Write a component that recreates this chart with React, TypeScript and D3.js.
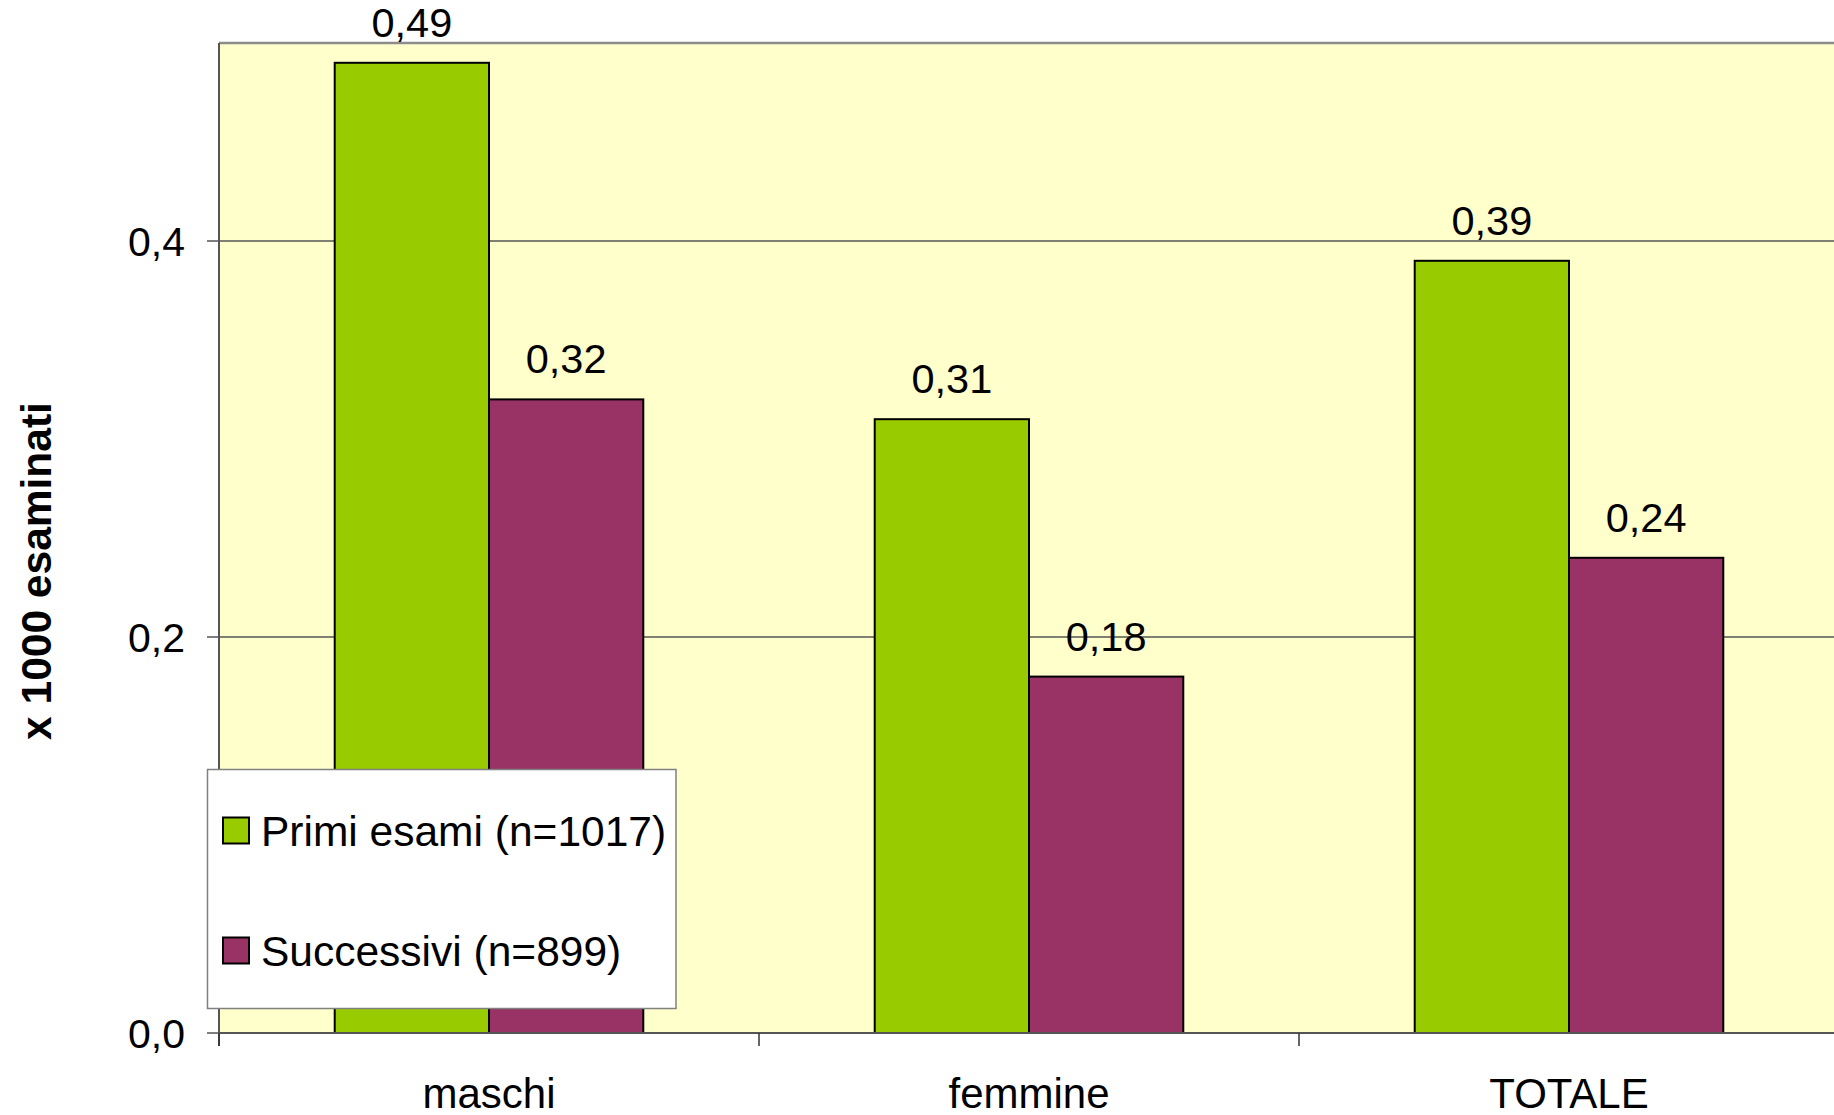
import React from "react";
import * as d3 from "d3";

const categories = ["maschi", "femmine", "TOTALE"];
const seriesNames = ["Primi esami (n=1017)", "Successivi (n=899)"];
const primiEsami = [0.49, 0.31, 0.39];
const successivi = [0.32, 0.18, 0.24];
const yTicks = [0, 0.2, 0.4];
const seriesColors = ["#99CC00", "#993366"];

const W = 1834;
const H = 1115;
const FONT = "'Liberation Sans', Arial, sans-serif";

export default function App() {
  const left = 219;
  const right = 1839;
  const top = 43;
  const bottom = 1033;

  const x = d3.scaleBand<string>().domain(categories).range([left, right]).padding(0);
  const xs = d3
    .scaleBand<string>()
    .domain(seriesNames)
    .range([0, x.bandwidth()])
    .paddingInner(0)
    .paddingOuter(0.75);
  const y = d3.scaleLinear().domain([0, 0.5]).range([bottom, top]);
  const fmt = (v: number, d: number) => d3.format(`.${d}f`)(v).replace(".", ",");

  const series = [primiEsami, successivi];

  const boundaries = categories.map((c) => x(c) as number);

  return (
    <svg
      width={W}
      height={H}
      style={{ position: "absolute", left: 0, top: 0, display: "block", background: "#fff" }}
      fontFamily={FONT}
    >
      {/* plot background */}
      <rect x={left} y={top} width={right - left} height={bottom - top} fill="#FFFFCC" />
      <line x1={left} x2={W} y1={top} y2={top} stroke="#8c8c8c" strokeWidth={2.5} />

      {/* gridlines */}
      {yTicks
        .filter((t) => t > 0)
        .map((t) => (
          <line key={t} x1={left} x2={W} y1={y(t)} y2={y(t)} stroke="#555" strokeWidth={1.3} />
        ))}

      {/* bars */}
      {series.map((vals, si) =>
        categories.map((c, ci) => {
          const bx = (x(c) as number) + (xs(seriesNames[si]) as number);
          const by = y(vals[ci]);
          return (
            <rect
              key={`${si}-${ci}`}
              x={bx}
              y={by}
              width={xs.bandwidth()}
              height={bottom - by}
              fill={seriesColors[si]}
              stroke="#000"
              strokeWidth={2}
            />
          );
        })
      )}

      {/* value labels */}
      {series.map((vals, si) =>
        categories.map((c, ci) => {
          const cx = (x(c) as number) + (xs(seriesNames[si]) as number) + xs.bandwidth() / 2;
          return (
            <text
              key={`l-${si}-${ci}`}
              x={cx}
              y={y(vals[ci]) - 26}
              textAnchor="middle"
              fontSize={41.5}
              fill="#000"
            >
              {fmt(vals[ci], 2)}
            </text>
          );
        })
      )}

      {/* y axis */}
      <line x1={left} x2={left} y1={top} y2={bottom + 13} stroke="#555" strokeWidth={2} />
      {yTicks.map((t) => (
        <g key={`yt-${t}`}>
          <line x1={left - 12} x2={left} y1={y(t)} y2={y(t)} stroke="#555" strokeWidth={1.5} />
          <text x={left - 34} y={y(t) + 14.5} textAnchor="end" fontSize={41} fill="#000">
            {fmt(t, 1)}
          </text>
        </g>
      ))}

      {/* x axis */}
      <line x1={left} x2={W} y1={bottom} y2={bottom} stroke="#555" strokeWidth={2} />
      {boundaries.map((b, i) => (
        <line key={`xt-${i}`} x1={b} x2={b} y1={bottom} y2={bottom + 13} stroke="#333" strokeWidth={1.5} />
      ))}
      {categories.map((c) => (
        <text
          key={`xl-${c}`}
          x={(x(c) as number) + x.bandwidth() / 2}
          y={1108}
          textAnchor="middle"
          fontSize={42}
          fill="#000"
        >
          {c}
        </text>
      ))}

      {/* y axis title */}
      <text
        transform={`translate(51, 571) rotate(-90)`}
        textAnchor="middle"
        fontSize={42.5}
        fontWeight="bold"
        fill="#000"
      >
        x 1000 esaminati
      </text>

      {/* legend */}
      <rect x={207.5} y={769.5} width={468.5} height={239} fill="#fff" stroke="#808080" strokeWidth={1.5} />
      {seriesNames.map((s, i) => (
        <g key={`lg-${s}`} transform={`translate(0, ${i * 120})`}>
          <rect x={223} y={817.5} width={26} height={26} fill={seriesColors[i]} stroke="#000" strokeWidth={2} />
          <text x={261} y={846} fontSize={42.5} fill="#000">
            {s}
          </text>
        </g>
      ))}
    </svg>
  );
}
